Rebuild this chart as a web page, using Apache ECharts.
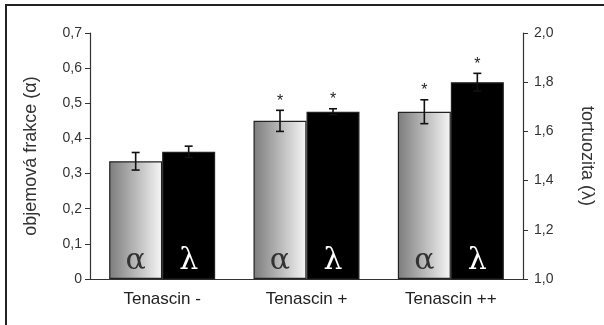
<!DOCTYPE html>
<html><head><meta charset="utf-8">
<script src="https://cdn.jsdelivr.net/npm/echarts@6/dist/echarts.min.js"></script>
<style>html,body{margin:0;padding:0;background:#fff}#c{width:604px;height:325px}</style>
</head><body><div id="c"></div>
<script>
const categories = ['Tenascin -', 'Tenascin +', 'Tenascin ++'];
const alphaValues = [0.335, 0.450, 0.476];
const alphaErrors = [0.025, 0.030, 0.034];
const alphaSignificant = [false, true, true];
const lambdaValues = [1.517, 1.680, 1.800];
const lambdaErrors = [0.023, 0.012, 0.036];
const lambdaSignificant = [false, true, true];
const leftAxisName = 'objemová frakce (α)';
const rightAxisName = 'tortuozita (λ)';

const BAR_W = 53;
const SANS = '"Liberation Sans", Arial, sans-serif';
const SERIF = 'DejaVu Serif';
const fmt = v => v === 0 ? '0' : v.toFixed(1).replace('.', ',');

function errSeries(name, values, errors, sig, yIdx, side) {
  return {
    type: 'custom', name: name, yAxisIndex: yIdx, z: 10, clip: false,
    encode: { x: 0, y: 1 },
    data: values.map((v, i) => [i, v, errors[i], sig[i] ? 1 : 0]),
    renderItem: function (params, api) {
      const i = api.value(0), v = api.value(1), e = api.value(2), s = api.value(3);
      const top = api.coord([i, v + e]);
      const bot = api.coord([i, v - e]);
      const x = top[0] + side * BAR_W / 2;
      const st = { stroke: '#111', lineWidth: 1.6 };
      const ch = [
        { type: 'line', shape: { x1: x, y1: top[1], x2: x, y2: bot[1] }, style: st },
        { type: 'line', shape: { x1: x - 4, y1: top[1], x2: x + 4, y2: top[1] }, style: st },
        { type: 'line', shape: { x1: x - 4, y1: bot[1], x2: x + 4, y2: bot[1] }, style: st }
      ];
      if (s) ch.push({ type: 'text', style: { text: '*', x: x, y: top[1] - 9, align: 'center', verticalAlign: 'middle', font: '16px ' + SANS, fill: '#222' } });
      return { type: 'group', children: ch };
    }
  };
}

const chart = echarts.init(document.getElementById('c'));
chart.setOption({
  backgroundColor: '#fff',
  animation: false,
  graphic: [{ type: 'rect', shape: { x: 6, y: 5, width: 700, height: 400 }, style: { fill: null, stroke: '#222', lineWidth: 2 }, z: 100 }],
  grid: { left: 90, right: 79, top: 33, bottom: 46 },
  xAxis: {
    type: 'category', data: categories,
    axisLine: { lineStyle: { color: '#333', width: 1.2 } },
    axisTick: { show: false },
    axisLabel: { color: '#222', fontFamily: SANS, fontSize: 17, margin: 12 }
  },
  yAxis: [{
    type: 'value', min: 0, max: 0.7, interval: 0.1,
    name: leftAxisName, nameLocation: 'middle', nameGap: 50, nameRotate: 90,
    nameTextStyle: { color: '#333', fontFamily: SANS, fontSize: 18 },
    axisLine: { show: true, lineStyle: { color: '#333', width: 1.2 } },
    axisTick: { show: true, length: 5, lineStyle: { color: '#333' } },
    axisLabel: { formatter: fmt, color: '#333', fontFamily: SANS, fontSize: 14, margin: 8 },
    splitLine: { show: false }
  }, {
    type: 'value', min: 1, max: 2, interval: 0.2, position: 'right',
    name: rightAxisName, nameLocation: 'middle', nameGap: 55, nameRotate: -90,
    nameTextStyle: { color: '#333', fontFamily: SANS, fontSize: 18 },
    axisLine: { show: true, lineStyle: { color: '#333', width: 1.2 } },
    axisTick: { show: true, length: 5, lineStyle: { color: '#333' } },
    axisLabel: { formatter: fmt, color: '#333', fontFamily: SANS, fontSize: 14, margin: 11 },
    splitLine: { show: false }
  }],
  series: [{
    type: 'bar', name: 'alpha', yAxisIndex: 0, data: alphaValues, barWidth: BAR_W, barGap: '0%',
    itemStyle: {
      color: { type: 'linear', x: 0, y: 0, x2: 1, y2: 0, colorStops: [{ offset: 0, color: '#7c7c7c' }, { offset: 1, color: '#f6f6f6' }] },
      borderColor: '#222', borderWidth: 1.2
    },
    label: { show: true, position: 'insideBottom', distance: 3, formatter: 'α', color: '#333', fontFamily: SERIF, fontSize: 30 }
  }, {
    type: 'bar', name: 'lambda', yAxisIndex: 1, data: lambdaValues, barWidth: BAR_W, barGap: '0%', clip: true,
    itemStyle: { color: '#000', borderColor: '#222', borderWidth: 1.2 },
    label: { show: true, position: 'insideBottom', distance: 3, formatter: 'λ', color: '#fff', fontFamily: SERIF, fontSize: 30 }
  },
  errSeries('alphaErr', alphaValues, alphaErrors, alphaSignificant, 0, -1),
  errSeries('lambdaErr', lambdaValues, lambdaErrors, lambdaSignificant, 1, 1)
  ]
});
</script>
</body></html>
